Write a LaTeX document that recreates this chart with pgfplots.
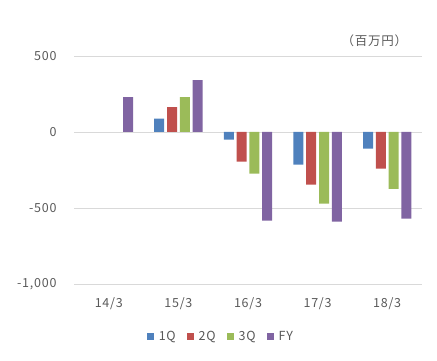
\documentclass[border=0pt]{standalone}
\usepackage{fontspec}
\setmainfont{Noto Sans CJK JP}[LetterSpace=6]
\usepackage{pgfplots}
\pgfplotsset{compat=1.18}
\definecolor{c1}{HTML}{4F81BD}
\definecolor{c2}{HTML}{C0504D}
\definecolor{c3}{HTML}{9BBB59}
\definecolor{c4}{HTML}{8064A2}
\definecolor{txt}{HTML}{595959}
\definecolor{gridc}{HTML}{D9D9D9}
\begin{document}
\begin{tikzpicture}
\path (0pt,0pt) rectangle (437pt,361pt);
\begin{axis}[
  at={(74pt,77pt)}, anchor=south west,
  scale only axis, width=348pt, height=228pt,
  ymin=-1000, ymax=500, ytick={-1000,-500,0,500},
  xmin=-0.5, xmax=4.5, xtick={0,1,2,3,4},
  xticklabels={14/3,15/3,16/3,17/3,18/3},
  ybar=2.8pt, bar width=10pt,
  axis line style={draw=none},
  major tick length=0pt,
  ymajorgrids, grid style={gridc, line width=0.8pt},
  tick label style={font=\fontsize{12.5}{14}\selectfont, text=txt},
  yticklabel style={xshift=-14pt},
  xticklabel style={yshift=-10pt},
  /pgf/number format/assume math mode=true,
  /pgf/number format/1000 sep={,},
  legend style={draw=none, at={(0.422,-0.231)}, anchor=center,
    legend columns=4, font=\fontsize{12.5}{14}\selectfont, text=txt,
    /tikz/every odd column/.append style={column sep=2.5pt},
    /tikz/every even column/.append style={column sep=9pt}},
  legend image code/.code={\fill[#1] (0pt,-3.5pt) rectangle (7.5pt,4pt);},
  clip=false,
]
\addplot[fill=c1, draw=none] coordinates {(1,88) (2,-50) (3,-215) (4,-110)};
\addplot[fill=c2, draw=none] coordinates {(1,164) (2,-195) (3,-347) (4,-241)};
\addplot[fill=c3, draw=none] coordinates {(1,230) (2,-274) (3,-472) (4,-375)};
\addplot[fill=c4, draw=none] coordinates {(0,230) (1,342) (2,-583) (3,-590) (4,-570)};
\legend{1Q,2Q,3Q,FY}
\node[anchor=base east, text=txt, font=\fontsize{12.5}{14}\selectfont, inner sep=0pt] at (rel axis cs:0.958,1) [yshift=10pt] {（百万円）};
\end{axis}
\end{tikzpicture}
\end{document}
